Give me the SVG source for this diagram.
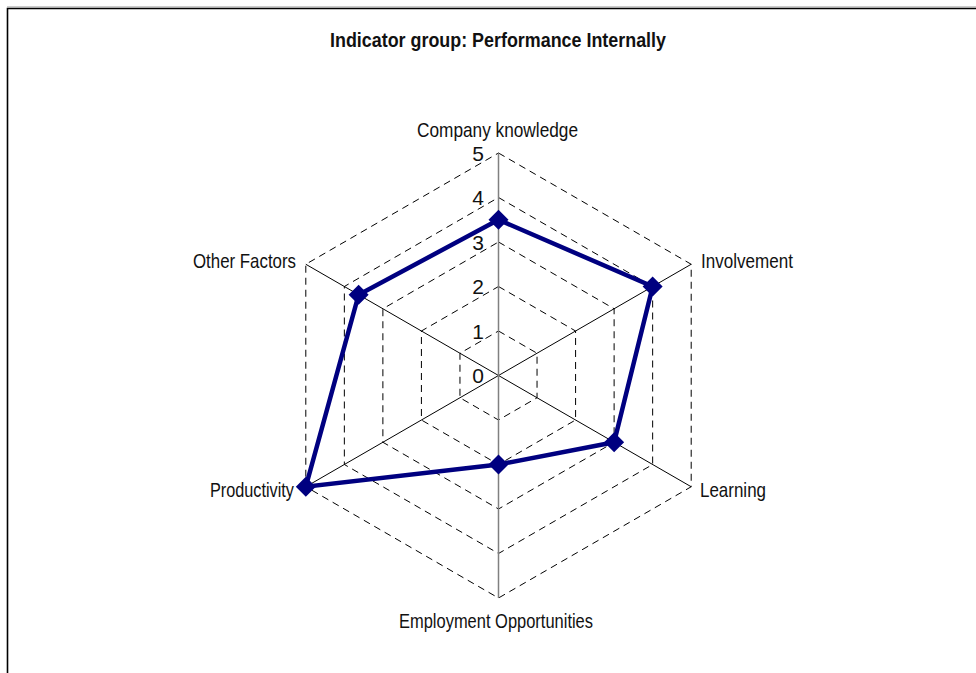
<svg xmlns="http://www.w3.org/2000/svg" width="976" height="673" viewBox="0 0 976 673">
<style>
.grid{fill:none;stroke:#000;stroke-width:1;stroke-dasharray:7,5}
.axis{stroke:#000;stroke-width:1}
.vaxis{stroke:#808080;stroke-width:1.5}
.lbl{font-family:"Liberation Sans Narrow","Arial Narrow","Liberation Sans",Arial,sans-serif;font-size:21px;fill:#111}
.num{font-family:"Liberation Sans Narrow","Arial Narrow","Liberation Sans",Arial,sans-serif;font-size:21px;fill:#111;text-anchor:end}
.title{font-family:"Liberation Sans Narrow","Arial Narrow","Liberation Sans",Arial,sans-serif;font-size:21px;font-weight:bold;fill:#111}
.series{fill:none;stroke:#000080;stroke-width:4.5;stroke-linejoin:miter}
.mk{fill:#000080}
</style>
<defs>
<path id="dia" d="M0,-10 L10,0 L0,10 L-10,0 Z"/>
</defs>
<rect x="0" y="0" width="976" height="673" fill="#fff"/>
<path d="M7.5,680 L7.5,8.5 L980,8.5" fill="none" stroke="#000" stroke-width="1.6"/>
<line x1="7" y1="7" x2="980" y2="7" stroke="#999" stroke-width="1"/>
<text id="title" class="title" x="330" y="47" textLength="336" lengthAdjust="spacingAndGlyphs">Indicator group: Performance Internally</text>
<g id="grid">
<polygon class="grid" points="498.5,331 537.04,353.25 537.04,397.75 498.5,420 459.96,397.75 459.96,353.25"/>
<polygon class="grid" points="498.5,286.5 575.58,331 575.58,420 498.5,464.5 421.42,420 421.42,331"/>
<polygon class="grid" points="498.5,242 614.11,308.75 614.11,442.25 498.5,509 382.89,442.25 382.89,308.75"/>
<polygon class="grid" points="498.5,197.5 652.65,286.5 652.65,464.5 498.5,553.5 344.35,464.5 344.35,286.5"/>
<polygon class="grid" points="498.5,153 691.19,264.25 691.19,486.75 498.5,598 305.81,486.75 305.81,264.25"/>
</g>
<g id="axes">
<line class="axis" x1="691.19" y1="264.25" x2="305.81" y2="486.75"/>
<line class="axis" x1="305.81" y1="264.25" x2="691.19" y2="486.75"/>
<line class="vaxis" x1="498.5" y1="153" x2="498.5" y2="598"/>
</g>
<g id="scale">
<text class="num" x="484" y="383">0</text>
<text class="num" x="484" y="338.5">1</text>
<text class="num" x="484" y="294">2</text>
<text class="num" x="484" y="249.5">3</text>
<text class="num" x="484" y="205">4</text>
<text class="num" x="484" y="160.5">5</text>
</g>
<g id="node-company-knowledge"><text class="lbl" x="417" y="137" textLength="161" lengthAdjust="spacingAndGlyphs">Company knowledge</text></g>
<g id="node-involvement"><text class="lbl" x="701" y="268" textLength="92" lengthAdjust="spacingAndGlyphs">Involvement</text></g>
<g id="node-learning"><text class="lbl" x="700" y="497" textLength="66" lengthAdjust="spacingAndGlyphs">Learning</text></g>
<g id="node-employment"><text class="lbl" x="399" y="628" textLength="194" lengthAdjust="spacingAndGlyphs">Employment Opportunities</text></g>
<g id="node-productivity"><text class="lbl" x="210" y="497" textLength="84" lengthAdjust="spacingAndGlyphs">Productivity</text></g>
<g id="node-other-factors"><text class="lbl" x="193" y="268" textLength="103" lengthAdjust="spacingAndGlyphs">Other Factors</text></g>
<g id="connectors">
<polygon class="series" points="498.5,219.75 652.65,286.5 614.11,442.25 498.5,464.5 305.81,486.75 358.63,294.75"/>
<use href="#dia" class="mk" x="498.5" y="219.75"/>
<use href="#dia" class="mk" x="652.65" y="286.5"/>
<use href="#dia" class="mk" x="614.11" y="442.25"/>
<use href="#dia" class="mk" x="498.5" y="464.5"/>
<use href="#dia" class="mk" x="305.81" y="486.75"/>
<use href="#dia" class="mk" x="358.63" y="294.75"/>
</g>
</svg>
